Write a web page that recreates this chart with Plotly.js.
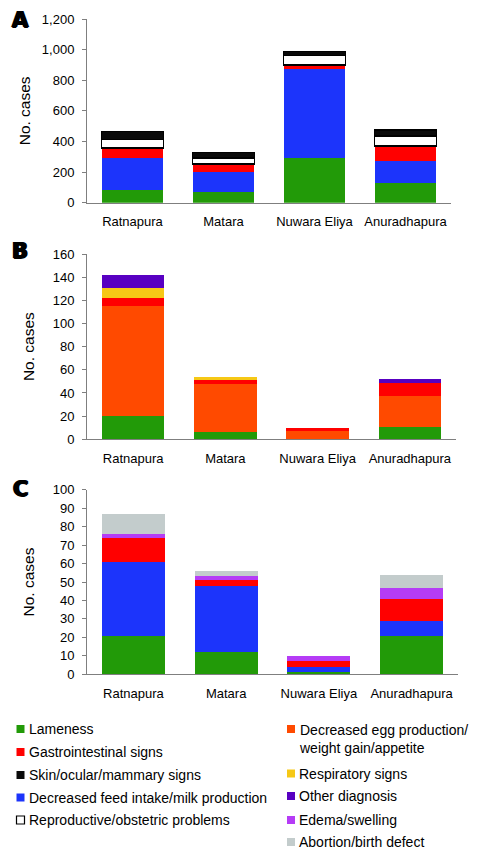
<!DOCTYPE html>
<html>
<head>
<meta charset="utf-8">
<script src="https://cdn.plot.ly/plotly-3.0.1.min.js"></script>
<style>html,body{margin:0;padding:0;background:#fff;}#chart{width:480px;height:858px;}</style>
</head>
<body>
<div id="chart"></div>
<script>
// ---- data ----
const districts = ['Ratnapura', 'Matara', 'Nuwara Eliya', 'Anuradhapura'];

// Panel A
const aLameness = [85, 70, 292, 128];
const aFeedMilk = [210, 132, 580, 142];
const aGastro = [62, 52, 28, 102];
const aReproductive = [55, 37, 60, 63];
const aSkin = [53, 38, 27, 41];

// Panel B
const bLameness = [20, 6, 0, 11];
const bEggWeight = [95, 42, 7, 26];
const bGastro = [7, 3, 3, 12];
const bRespiratory = [9, 3, 0, 0];
const bOther = [11, 0, 0, 3];

// Panel C
const cLameness = [21, 12, 1, 21];
const cFeedMilk = [40, 36, 3, 8];
const cGastro = [13, 3, 3, 12];
const cEdema = [2, 2, 3, 6];
const cAbortion = [11, 3, 0, 7];

const panelLetters = ['A', 'B', 'C'];
const yTitle = 'No. cases';

const legendLeft = ['Lameness', 'Gastrointestinal signs', 'Skin/ocular/mammary signs',
  'Decreased feed intake/milk production', 'Reproductive/obstetric problems'];
const legendRight = ['Decreased egg production/<br>weight gain/appetite', 'Respiratory signs',
  'Other diagnosis', 'Edema/swelling', 'Abortion/birth defect'];

// ---- styles ----
const C = {
  green: '#229a08', red: '#ff0000', black: '#0a0a0a', blue: '#1c34fb', white: '#ffffff',
  orange: '#ff4a00', yellow: '#f6c816', purple: '#5800c2', edema: '#b53cf6', grey: '#c3cccc'
};
const FONT = 'Liberation Sans, Arial, sans-serif';

function bar(y, color, xa, ya, outline) {
  return {
    type: 'bar', x: districts, y: y, xaxis: xa, yaxis: ya, showlegend: false,
    marker: { color: color, line: { color: outline ? '#000' : color, width: outline ? 1.5 : 0 } },
    hoverinfo: 'x+y'
  };
}

const data = [
  bar(aLameness, C.green, 'x', 'y'),
  bar(aFeedMilk, C.blue, 'x', 'y'),
  bar(aGastro, C.red, 'x', 'y'),
  bar(aReproductive, C.white, 'x', 'y', true),
  bar(aSkin, C.black, 'x', 'y', true),

  bar(bLameness, C.green, 'x2', 'y2'),
  bar(bEggWeight, C.orange, 'x2', 'y2'),
  bar(bGastro, C.red, 'x2', 'y2'),
  bar(bRespiratory, C.yellow, 'x2', 'y2'),
  bar(bOther, C.purple, 'x2', 'y2'),

  bar(cLameness, C.green, 'x3', 'y3'),
  bar(cFeedMilk, C.blue, 'x3', 'y3'),
  bar(cGastro, C.red, 'x3', 'y3'),
  bar(cEdema, C.edema, 'x3', 'y3'),
  bar(cAbortion, C.grey, 'x3', 'y3')
];

const W = 480, H = 858;
const px = v => v / W;
const py = v => 1 - v / H;

function xax(x0, x1, anchor) {
  return {
    domain: [px(x0), px(x1)], anchor: anchor, showline: true, linecolor: '#7f7f7f', linewidth: 1,
    ticks: 'outside', ticklen: 7, tickcolor: 'rgba(0,0,0,0)', showgrid: false, zeroline: false,
    tickfont: { family: FONT, size: 13, color: '#000' }, fixedrange: true
  };
}
function yax(top, bottom, range, dtick, anchor, fmt, standoff) {
  return {
    domain: [py(bottom), py(top)], anchor: anchor, range: range, dtick: dtick, tick0: 0,
    showline: true, linecolor: '#7f7f7f', linewidth: 1, ticks: 'outside', ticklen: 4, tickcolor: '#7f7f7f',
    showgrid: false, zeroline: false, tickformat: fmt || 'd', ticklabelstandoff: 5,
    tickfont: { family: FONT, size: 13, color: '#000' },
    title: { text: yTitle, font: { family: FONT, size: 15.5, color: '#000' }, standoff: standoff },
    fixedrange: true
  };
}

const annotations = [];
const shapes = [];
const letterY = [20, 251, 489];
panelLetters.forEach((t, i) => {
  annotations.push({
    text: '<b>' + t + '</b>', xref: 'paper', yref: 'paper', x: px(20), y: py(letterY[i]),
    xanchor: 'center', yanchor: 'middle', showarrow: false,
    font: { family: 'DejaVu Sans, Liberation Sans, sans-serif', size: 21, color: '#000',
      shadow: '1px 0px 0px #000, -1px 0px 0px #000, 0px 0.5px 0px #000' }
  });
});

const leftColors = [C.green, C.red, C.black, C.blue, C.white];
const leftRows = [729, 752, 775, 797.5, 820];
legendLeft.forEach((t, i) => {
  shapes.push({ type: 'rect', xref: 'paper', yref: 'paper', x0: px(16.5), x1: px(24.5),
    y0: py(leftRows[i] + 4), y1: py(leftRows[i] - 4), fillcolor: leftColors[i],
    line: { color: i === 4 ? '#000' : leftColors[i], width: i === 4 ? 1.2 : 0 } });
  annotations.push({ text: t, xref: 'paper', yref: 'paper', x: px(27), y: py(leftRows[i]),
    xanchor: 'left', yanchor: 'middle', showarrow: false, font: { family: FONT, size: 14, color: '#000' } });
});
const rightColors = [C.orange, C.yellow, C.purple, C.edema, C.grey];
const rightRows = [729, 773.5, 796, 820, 842];
legendRight.forEach((t, i) => {
  shapes.push({ type: 'rect', xref: 'paper', yref: 'paper', x0: px(287), x1: px(295),
    y0: py(rightRows[i] + 4), y1: py(rightRows[i] - 4), fillcolor: rightColors[i],
    line: { width: 0 } });
  const multi = t.indexOf('<br>') >= 0;
  annotations.push({ text: t, xref: 'paper', yref: 'paper', x: px(296.5),
    y: multi ? py(rightRows[i] - 9) : py(rightRows[i]), align: 'left',
    xanchor: 'left', yanchor: multi ? 'top' : 'middle', showarrow: false,
    font: { family: FONT, size: 14, color: '#000' } });
});

const layout = {
  width: W, height: H, margin: { l: 0, r: 0, t: 0, b: 0 },
  paper_bgcolor: '#fff', plot_bgcolor: '#fff', barmode: 'stack', bargap: 0.32,
  font: { family: FONT, color: '#000' }, showlegend: false,
  xaxis: xax(87, 451, 'y'),
  yaxis: yax(19, 202.7, [0, 1200], 200, 'x', ',', 7),
  xaxis2: xax(87, 456, 'y2'),
  yaxis2: yax(254, 439.3, [0, 160], 20, 'x2', 'd', 14),
  xaxis3: xax(87, 458, 'y3'),
  yaxis3: yax(489.7, 674.3, [0, 100], 10, 'x3', 'd', 14),
  annotations: annotations, shapes: shapes
};

Plotly.newPlot('chart', data, layout, { staticPlot: true, displayModeBar: false });
</script>
</body>
</html>
